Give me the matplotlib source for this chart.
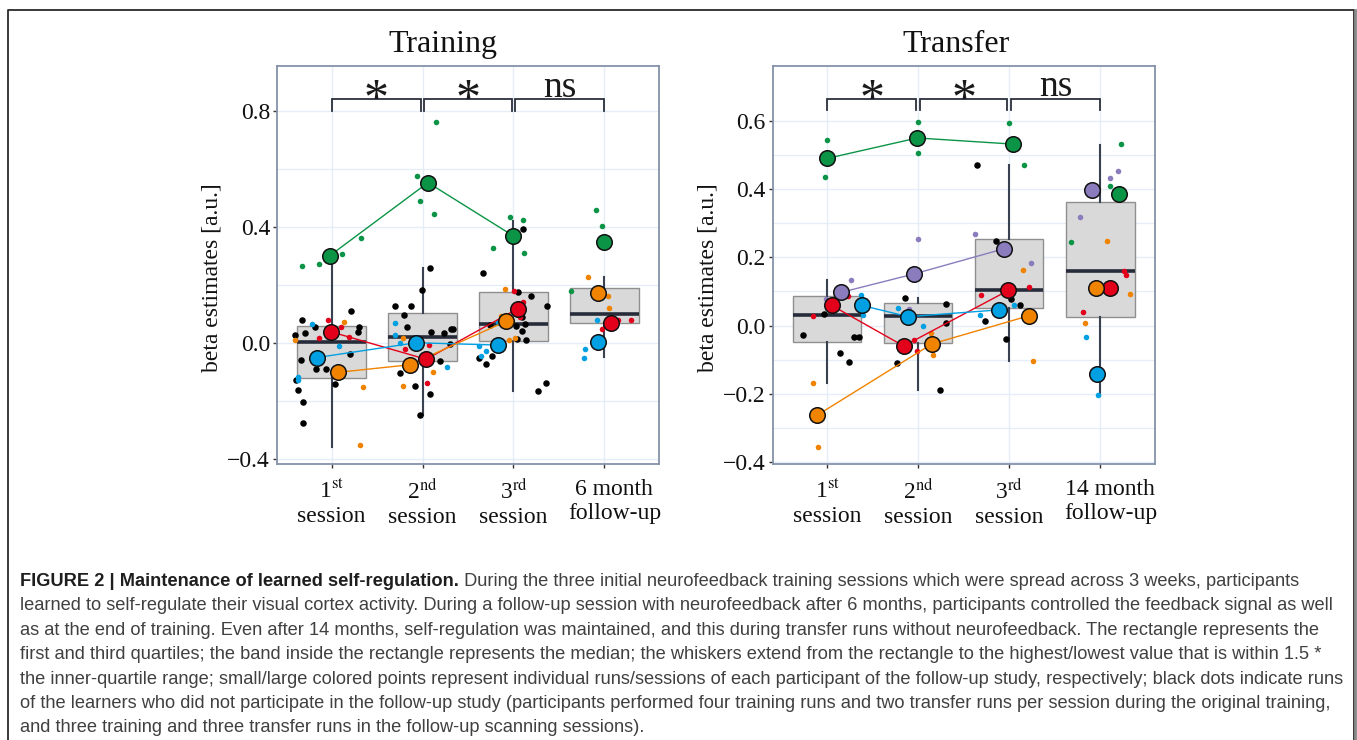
import matplotlib
matplotlib.use('Agg')
import matplotlib.pyplot as plt
from matplotlib.lines import Line2D
from matplotlib.transforms import ScaledTranslation

# ---------------- DATA ----------------
SESSIONS = [1, 2, 3, 4]
TRAIN_XLABELS = ['1$^{\\mathrm{st}}$\nsession', '2$^{\\mathrm{nd}}$\nsession',
                 '3$^{\\mathrm{rd}}$\nsession', '6 month\nfollow-up']
TRANS_XLABELS = ['1$^{\\mathrm{st}}$\nsession', '2$^{\\mathrm{nd}}$\nsession',
                 '3$^{\\mathrm{rd}}$\nsession', '14 month\nfollow-up']
SIG_LABELS = ['*', '*', 'ns']

# box statistics (q1, median, q3, whisker low, whisker high)
TRAIN_Q1 = [-0.122, -0.063, 0.005, 0.068]
TRAIN_MED = [0.002, 0.021, 0.064, 0.100]
TRAIN_Q3 = [0.059, 0.103, 0.174, 0.190]
TRAIN_WLO = [-0.360, -0.249, -0.167, -0.048]
TRAIN_WHI = [0.285, 0.258, 0.420, 0.225]

TRANS_Q1 = [-0.047, -0.052, 0.052, 0.024]
TRANS_MED = [0.030, 0.027, 0.103, 0.159]
TRANS_Q3 = [0.088, 0.067, 0.253, 0.362]
TRANS_WLO = [-0.169, -0.189, -0.103, -0.208]
TRANS_WHI = [0.134, 0.082, 0.470, 0.530]

# individual runs (small points): group, jittered x, value
TRAIN_RUN_GROUP = (['green'] * 4 + ['black'] * 16 + ['red'] * 4 + ['orange'] * 4 + ['blue'] * 4
                   + ['green'] * 4 + ['black'] * 16 + ['blue'] * 4 + ['orange'] * 3 + ['red'] * 3
                   + ['green'] * 4 + ['black'] * 17 + ['red'] * 3 + ['orange'] * 4 + ['blue'] * 4
                   + ['green'] * 3 + ['orange'] * 3 + ['red'] * 3 + ['blue'] * 3)
TRAIN_RUN_X = [0.674, 0.857, 1.11, 1.32,
               1.21, 0.67, 0.82, 0.71, 0.60, 1.30, 1.29, 0.66, 1.20, 0.83, 0.94, 0.61, 0.63, 1.04, 0.69, 0.69,
               0.96, 1.10, 0.86, 1.19,
               1.14, 0.60, 1.35, 1.31,
               0.78, 1.08, 0.63, 0.63,
               2.15, 1.94, 1.97, 2.13,
               2.08, 1.99, 1.70, 1.87, 1.80, 1.83, 2.09, 2.24, 2.31, 2.34, 2.30, 2.19, 1.75, 1.92, 2.08, 1.97,
               1.70, 1.70, 1.75, 2.27,
               1.78, 2.11, 1.79,
               2.07, 1.81, 2.05,
               2.96, 3.10, 2.77, 3.12,
               3.11, 2.66, 3.05, 3.19, 3.37, 3.09, 3.13, 2.74, 3.03, 3.09, 3.04, 3.14, 2.62, 2.76, 2.70, 3.36, 3.27,
               3.01, 3.11, 3.07,
               2.91, 2.86, 2.95, 3.02,
               2.62, 2.70, 2.64, 2.83,
               3.91, 3.97, 3.63,
               3.82, 4.04, 4.05,
               4.15, 4.29, 3.97,
               3.92, 3.79, 3.78]
TRAIN_RUN_Y = [0.266, 0.272, 0.306, 0.361,
               0.110, 0.077, 0.054, 0.034, 0.028, 0.055, 0.038, -0.060, -0.039, -0.089, -0.090, -0.129, -0.163,
               -0.143, -0.203, -0.275,
               0.079, 0.055, 0.018, 0.021,
               0.072, 0.011, -0.152, -0.352,
               0.063, -0.011, -0.117, -0.129,
               0.760, 0.574, 0.489, 0.443,
               0.256, 0.182, 0.126, 0.126, 0.094, 0.053, 0.038, 0.033, 0.046, 0.049, -0.005, -0.062, -0.103,
               -0.148, -0.175, -0.249,
               0.067, 0.026, 0.000, -0.083,
               0.015, -0.100, -0.149,
               -0.009, -0.021, -0.138,
               0.434, 0.422, 0.328, 0.308,
               0.392, 0.239, 0.174, 0.160, 0.126, 0.090, 0.063, 0.061, 0.057, 0.041, 0.014, 0.011, -0.052,
               -0.046, -0.074, -0.139, -0.167,
               0.177, 0.141, 0.090,
               0.186, 0.093, 0.009, 0.015,
               -0.011, -0.028, -0.044, 0.071,
               0.459, 0.403, 0.180,
               0.225, 0.162, 0.121,
               0.077, 0.077, 0.049,
               0.080, -0.020, -0.051]

# session means of follow-up participants (large points)
TRAIN_SES_GROUP = ['green', 'red', 'blue', 'orange']
TRAIN_SES_X = [[0.98, 2.06, 3.00, 4.00], [0.99, 2.04, 3.05, 4.07],
               [0.84, 1.93, 2.83, 3.93], [1.07, 1.86, 2.92, 3.93]]
TRAIN_SES_Y = [[0.300, 0.552, 0.368, 0.346], [0.038, -0.057, 0.118, 0.067],
               [-0.051, 0.000, -0.008, 0.003], [-0.102, -0.076, 0.074, 0.170]]

TRANS_RUN_GROUP = (['green'] * 2 + ['purple'] * 2 + ['red'] * 2 + ['blue'] * 2 + ['black'] * 6 + ['orange'] * 2
                   + ['green'] * 2 + ['purple'] * 2 + ['black'] * 5 + ['blue'] * 2 + ['red'] * 2 + ['orange'] * 2
                   + ['green'] * 2 + ['black'] * 6 + ['purple'] * 2 + ['orange'] * 2 + ['red'] * 2 + ['blue'] * 2
                   + ['green'] * 3 + ['purple'] * 3 + ['orange'] * 3 + ['red'] * 3 + ['blue'] * 2)
TRANS_RUN_X = [1.00, 0.98, 1.26, 0.99, 0.84, 1.23, 1.37, 1.39, 0.96, 0.74, 1.29, 1.35, 1.14, 1.24, 0.85, 0.90,
               2.00, 2.00, 2.00, 1.90, 1.85, 2.30, 2.31, 1.77, 2.24, 1.78, 2.05, 1.95, 1.99, 2.14, 2.16,
               3.00, 3.16, 2.64, 2.85, 3.02, 3.12, 2.73, 2.96, 2.62, 3.24, 3.15, 3.26, 2.69, 3.22, 2.68, 3.05,
               4.23, 4.11, 3.68, 4.19, 4.11, 3.78, 4.07, 4.32, 3.83, 4.26, 4.28, 3.81, 3.84, 3.97]
TRANS_RUN_Y = [0.544, 0.436, 0.134, 0.079, 0.029, 0.088, 0.091, 0.030, 0.034, -0.029, -0.035, -0.035, -0.080,
               -0.106, -0.169, -0.357,
               0.596, 0.507, 0.254, 0.048, 0.082, 0.063, 0.008, -0.109, -0.189, 0.051, 0.000, -0.043, -0.076,
               -0.021, -0.087,
               0.594, 0.470, 0.470, 0.249, 0.078, 0.059, 0.013, -0.039, 0.267, 0.182, 0.162, -0.103, 0.091,
               0.113, 0.031, 0.060,
               0.532, 0.408, 0.246, 0.454, 0.432, 0.318, 0.248, 0.093, 0.007, 0.159, 0.148, 0.041, -0.033, -0.205]

TRANS_SES_GROUP = ['green', 'purple', 'red', 'blue', 'orange']
TRANS_SES_X = [[1.00, 1.99, 3.04, 4.21], [1.15, 1.95, 2.94, 3.91], [1.05, 1.84, 2.99, 4.11],
               [1.38, 1.89, 2.89, 3.96], [0.89, 2.15, 3.22, 3.95]]
TRANS_SES_Y = [[0.490, 0.550, 0.532, 0.386], [0.097, 0.151, 0.225, 0.398], [0.059, -0.060, 0.103, 0.110],
               [0.059, 0.026, 0.046, -0.141], [-0.263, -0.054, 0.029, 0.110]]

CAPTION_BOLD = 'FIGURE 2 | Maintenance of learned self-regulation.'
CAPTION_LINES = [
    ' During the three initial neurofeedback training sessions which were spread across 3 weeks, participants',
    'learned to self-regulate their visual cortex activity. During a follow-up session with neurofeedback after 6 months, participants controlled the feedback signal as well',
    'as at the end of training. Even after 14 months, self-regulation was maintained, and this during transfer runs without neurofeedback. The rectangle represents the',
    'first and third quartiles; the band inside the rectangle represents the median; the whiskers extend from the rectangle to the highest/lowest value that is within 1.5 *',
    'the inner-quartile range; small/large colored points represent individual runs/sessions of each participant of the follow-up study, respectively; black dots indicate runs',
    'of the learners who did not participate in the follow-up study (participants performed four training runs and two transfer runs per session during the original training,',
    'and three training and three transfer runs in the follow-up scanning sessions).',
]

# ---------------- STYLE ----------------
COLORS = {'green': '#0b9446', 'red': '#e3001b', 'blue': '#00a0e2', 'orange': '#f08300',
          'purple': '#8a7cbd', 'black': '#000000'}
GRID = '#e4edf8'
SPINE = '#8492aa'

plt.rcParams['font.family'] = ['Liberation Serif', 'DejaVu Serif']
plt.rcParams['mathtext.fontset'] = 'stix'

W, H = 1357, 740
fig = plt.figure(figsize=(W / 100, H / 100), dpi=100)
fig.patch.set_facecolor('white')


def px_axes(x0, y0, x1, y1):
    return fig.add_axes([x0 / W, 1 - y1 / H, (x1 - x0) / W, (y1 - y0) / H])


def draw_panel(ax, q1, med, q3, wlo, whi, run_g, run_x, run_y, ses_g, ses_x, ses_y,
               ylim, yticks, yminor, xlabels, br_y, br_h, star_base, ns_base):
    stats = [dict(med=m, q1=a, q3=b, whislo=lo, whishi=hi, fliers=[])
             for m, a, b, lo, hi in zip(med, q1, q3, wlo, whi)]
    ax.bxp(stats, positions=SESSIONS, widths=0.75, patch_artist=True, showfliers=False,
           showcaps=False, manage_ticks=False,
           boxprops=dict(facecolor='#d9d9d9', edgecolor='#8f8f8f', linewidth=1.0),
           medianprops=dict(color='#262c3a', linewidth=2.6),
           whiskerprops=dict(color='#3a4150', linewidth=1.5), zorder=2)

    ax.set_xlim(0.4, 4.6)
    ax.set_ylim(*ylim)
    ax.set_xticks(SESSIONS)
    ax.set_xticklabels(xlabels)
    ax.set_yticks(yticks)
    ax.set_yticks(yminor, minor=True)
    ax.set_yticklabels(['%.1f' % t if t >= 0 else '\u2212%.1f' % abs(t) for t in yticks])
    ax.grid(True, which='major', color=GRID, lw=1.0)
    ax.grid(True, which='minor', axis='y', color=GRID, lw=0.9)
    ax.set_axisbelow(True)
    for s in ax.spines.values():
        s.set_color(SPINE)
        s.set_linewidth(1.3)
    ax.tick_params(axis='both', which='major', length=3, width=1, color='#333333',
                   labelsize=17, labelcolor='#111111', pad=2)
    ax.tick_params(axis='y', which='minor', length=0)
    ax.tick_params(axis='x', pad=8)
    # the follow-up label sits a little right of its tick in the original
    last = ax.get_xticklabels()[-1]
    last.set_transform(last.get_transform() + ScaledTranslation(10 / 100, 0, fig.dpi_scale_trans))

    # small points
    for g, x, y in zip(run_g, run_x, run_y):
        ax.scatter([x], [y], s=22 if g == 'black' else 16, color=COLORS[g], lw=0, zorder=3)
    # session lines (first three sessions) and large points
    for g, xs, ys in zip(ses_g, ses_x, ses_y):
        ax.plot(xs[:3], ys[:3], color=COLORS[g], lw=1.0, zorder=4)
    for g, xs, ys in zip(ses_g, ses_x, ses_y):
        ax.scatter(xs, ys, s=125, color=COLORS[g], edgecolor='#111111', lw=1.1, zorder=5)

    # significance brackets
    spans = [(1.0, 1.98), (2.02, 2.98), (3.02, 4.0)]
    for (a, b), lab in zip(spans, SIG_LABELS):
        ax.plot([a, a, b, b], [br_y - br_h, br_y, br_y, br_y - br_h], color='#2a2f3a', lw=1.3,
                zorder=6, solid_joinstyle='miter')
        if lab == '*':
            ax.text((a + b) / 2, star_base, lab, ha='center', va='baseline',
                    fontsize=36, color='#1a1a1a', zorder=6)
        else:
            ax.text((a + b) / 2, ns_base, lab, ha='center', va='baseline',
                    fontsize=27, color='#1a1a1a', zorder=6)


axL = px_axes(277, 66, 659, 464)
draw_panel(axL, TRAIN_Q1, TRAIN_MED, TRAIN_Q3, TRAIN_WLO, TRAIN_WHI,
           TRAIN_RUN_GROUP, TRAIN_RUN_X, TRAIN_RUN_Y, TRAIN_SES_GROUP, TRAIN_SES_X, TRAIN_SES_Y,
           (-0.418, 0.954), [-0.4, 0.0, 0.4, 0.8], [-0.2, 0.2, 0.6], TRAIN_XLABELS,
           0.839, 0.039, 0.792, 0.848)

axR = px_axes(772.5, 66, 1155, 464)
draw_panel(axR, TRANS_Q1, TRANS_MED, TRANS_Q3, TRANS_WLO, TRANS_WHI,
           TRANS_RUN_GROUP, TRANS_RUN_X, TRANS_RUN_Y, TRANS_SES_GROUP, TRANS_SES_X, TRANS_SES_Y,
           (-0.406, 0.761), [-0.4, -0.2, 0.0, 0.2, 0.4, 0.6], [-0.3, -0.1, 0.1, 0.3, 0.5], TRANS_XLABELS,
           0.664, 0.032, 0.623, 0.672)

# titles and y labels
fig.text(443 / W, 1 - 52 / H, 'Training', fontsize=23, ha='center', va='baseline', color='#111111')
fig.text(956 / W, 1 - 52 / H, 'Transfer', fontsize=23, ha='center', va='baseline', color='#111111')
for xc in (212, 708):
    fig.text(xc / W, 1 - 278 / H, 'beta estimates [a.u.]', fontsize=17, rotation=90,
             ha='center', va='center', color='#111111')

# caption
cap_font = ['Liberation Sans', 'DejaVu Sans']
fig.canvas.draw()
renderer = fig.canvas.get_renderer()
probe = fig.text(0, 0, CAPTION_LINES[1], fontsize=11, family=cap_font)
wprobe = probe.get_window_extent(renderer).width
probe.remove()
cap_size = 11 * (1308 / wprobe)

base0 = 586
step = 24.4
bold = fig.text(20 / W, 1 - base0 / H, CAPTION_BOLD, fontsize=cap_size, family=cap_font,
                fontweight='bold', color='#1e1e1e', va='baseline', ha='left')
fig.canvas.draw()
bx1 = bold.get_window_extent(renderer).x1
fig.text(bx1 / W, 1 - base0 / H, CAPTION_LINES[0], fontsize=cap_size, family=cap_font,
         color='#404040', va='baseline', ha='left')
for i, line in enumerate(CAPTION_LINES[1:], start=1):
    fig.text(20 / W, 1 - (base0 + i * step) / H, line, fontsize=cap_size, family=cap_font,
             color='#404040', va='baseline', ha='left')

# figure frame (top, left, right)
fig.add_artist(Line2D([7.5 / W, 7.5 / W, 1354 / W, 1354 / W], [0, 1 - 9.5 / H, 1 - 9.5 / H, 0],
                      transform=fig.transFigure, color='#2a2a2a', lw=1.3))
fig.add_artist(Line2D([1354.5 / W, 1354.5 / W], [0, 1 - 10 / H], transform=fig.transFigure,
                      color='#888888', lw=2.0))

fig.savefig('out.png', dpi=100, facecolor='white')
